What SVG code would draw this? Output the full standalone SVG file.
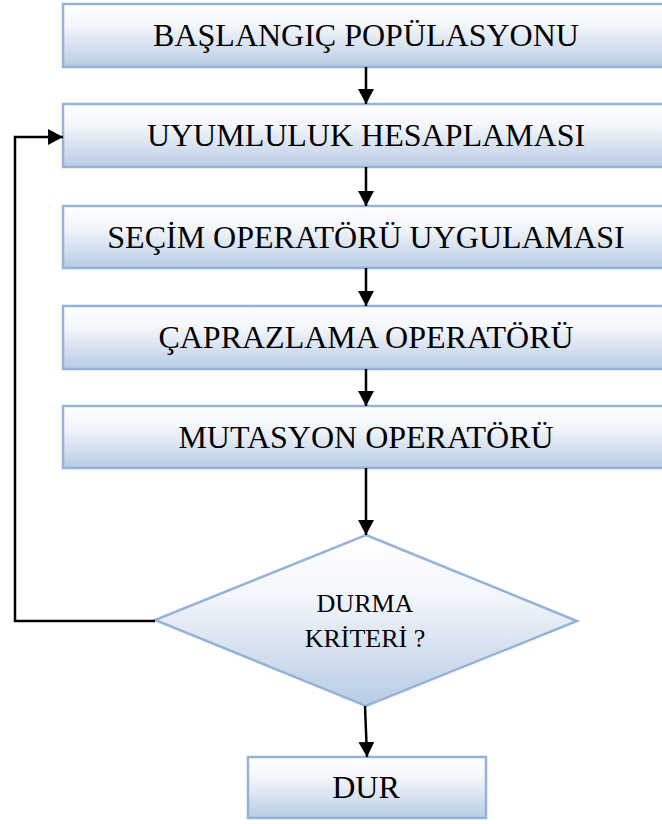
<svg xmlns="http://www.w3.org/2000/svg" width="662" height="824" viewBox="0 0 662 824">
  <style>
    .box { fill: url(#boxFill); stroke: #95b3d7; stroke-width: 2.5; }
    .label { font-family: "Liberation Serif", "Times New Roman", serif; font-size: 32px; fill: #000; text-anchor: middle; }
    .small { font-size: 26px; }
    .flow { fill: none; stroke: #000; stroke-width: 2.5; }
  </style>
  <defs>
    <linearGradient id="boxFill" x1="0" y1="0" x2="0" y2="1">
      <stop offset="0" stop-color="#ffffff"/>
      <stop offset="0.35" stop-color="#f3f6fb"/>
      <stop offset="1" stop-color="#b8cce4"/>
    </linearGradient>
    <marker id="arrow" markerUnits="userSpaceOnUse" markerWidth="16" markerHeight="16" refX="15" refY="8" orient="auto">
      <path d="M0,0 L15,8 L0,16 Z" fill="#000"/>
    </marker>
  </defs>

  <!-- process steps -->
  <g id="baslangic">
    <rect class="box" x="63" y="4" width="610" height="63"/>
    <text class="label" x="366" y="46">BAŞLANGIÇ POPÜLASYONU</text>
  </g>
  <g id="uyumluluk">
    <rect class="box" x="63" y="104" width="610" height="63"/>
    <text class="label" x="366" y="146">UYUMLULUK HESAPLAMASI</text>
  </g>
  <g id="secim">
    <rect class="box" x="63" y="206" width="610" height="62"/>
    <text class="label" x="366" y="248">SEÇİM OPERATÖRÜ UYGULAMASI</text>
  </g>
  <g id="caprazlama">
    <rect class="box" x="63" y="306" width="610" height="63"/>
    <text class="label" x="366" y="348">ÇAPRAZLAMA OPERATÖRÜ</text>
  </g>
  <g id="mutasyon">
    <rect class="box" x="63" y="406" width="610" height="62"/>
    <text class="label" x="366" y="448">MUTASYON OPERATÖRÜ</text>
  </g>

  <!-- decision -->
  <g id="durma">
    <polygon class="box" points="366,535 577,621 366,706 155,620"/>
    <text class="label small" x="365" y="612">DURMA</text>
    <text class="label small" x="365" y="647">KRİTERİ ?</text>
  </g>

  <g id="dur">
    <rect class="box" x="248" y="757" width="238" height="61"/>
    <text class="label" x="366" y="798">DUR</text>
  </g>

  <!-- connectors -->
  <g id="connectors">
    <path class="flow" d="M366,67 L366,104" marker-end="url(#arrow)"/>
    <path class="flow" d="M366,167 L366,206" marker-end="url(#arrow)"/>
    <path class="flow" d="M366,268 L366,306" marker-end="url(#arrow)"/>
    <path class="flow" d="M366,369 L366,406" marker-end="url(#arrow)"/>
    <path class="flow" d="M366,468 L366,535" marker-end="url(#arrow)"/>
    <path class="flow" d="M365,706 L367,757" marker-end="url(#arrow)"/>
    <path class="flow" d="M155,621 L15,621 L15,137 L63,137" marker-end="url(#arrow)"/>
  </g>
</svg>
